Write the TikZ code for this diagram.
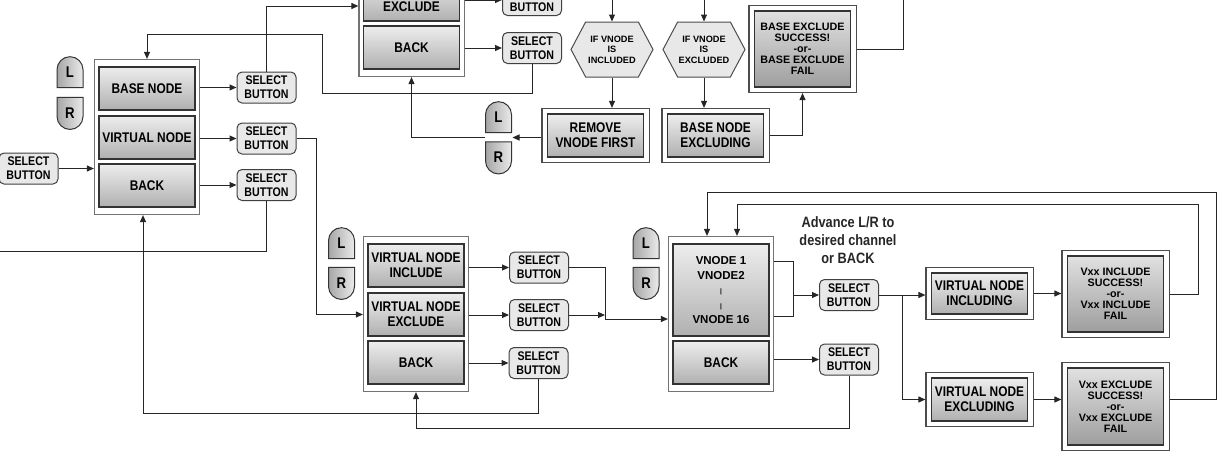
\documentclass[tikz,border=0pt]{standalone}
\usepackage{fontspec}
\setmainfont{Liberation Sans}
\newfontfamily\condfont[FakeStretch=0.85]{Liberation Sans}
\usepackage {tikz}
\usetikzlibrary {positioning}
\usetikzlibrary{shapes.misc}
\usetikzlibrary{shapes.symbols}
\usetikzlibrary{calc}
\usetikzlibrary{fit}
\usetikzlibrary{arrows.meta}
\newcommand{\mnufont}{\condfont\bfseries\fontsize{14}{15}\selectfont}
\newcommand{\btnfnt}{\condfont\bfseries\fontsize{12.5}{14}\selectfont}
\newcommand{\keyfnt}{\condfont\bfseries\fontsize{15.5}{16}\selectfont}
\newcommand{\resfnt}{\bfseries\fontsize{10.75}{11}\selectfont}
\newcommand{\lstfnt}{\bfseries\fontsize{11.5}{14.75}\selectfont}
\newcommand{\hexfnt}{\bfseries\fontsize{9.2}{10.5}\selectfont}
\newcommand{\advfnt}{\condfont\bfseries\fontsize{15}{18}\selectfont}
\newcommand{\tick}{{\fontsize{6.5}{6.5}\selectfont|}}
\tikzset{
    conn/.style = {draw=black!85, line width=1pt},
    arr/.style = {conn, -{Triangle[length=7pt,width=6pt]}},
    menubox/.style = {rectangle, draw=black!80, line width=1.1pt, top color=black!7, bottom color=black!31, minimum width=96pt, minimum height=43pt, inner sep=1pt, align=center, font=\mnufont},
    resbox/.style = {menubox, minimum height=76pt, font=\resfnt, top color=black!12, bottom color=black!38},
    menuframe/.style = {rectangle, draw=black!55, line width=1.1pt, inner xsep=4pt, inner ysep=7pt},
    dframe/.style = {rectangle, draw=black!70, line width=1.1pt, inner sep=5pt},
    selbtn/.style = {rectangle, rounded corners=5pt, draw=black!75, line width=1pt, fill=black!9, minimum width=59pt, minimum height=31pt, inner sep=0pt, align=center, font=\btnfnt},
    lkey/.style = {rounded rectangle, rounded rectangle west arc=none, rotate=90, draw=black!80, line width=1pt, left color=black!35, right color=black!8, minimum width=31pt, minimum height=26pt, inner sep=0pt, font=\keyfnt},
    rkey/.style = {lkey, rounded rectangle west arc=convex, rounded rectangle east arc=none, minimum width=32pt},
    hexa/.style = {signal, signal to=east and west, signal pointer angle=124, draw=black!70, line width=1pt, fill=black!9, minimum width=82pt, minimum height=55pt, inner sep=0pt, align=center, font=\hexfnt}}

\begin{document}
\begin{tikzpicture}[x=1pt, y=-1pt]
    \path[use as bounding box] (0,0) rectangle (1217,450);
    \clip (0,0) rectangle (1217,450);
    % main menu
    \node[menubox] (basenode) at (147,88.5) {BASE NODE};
    \node[menubox] (virtnode) at (147,137.5) {VIRTUAL NODE};
    \node[menubox] (mainback) at (147,185.5) {BACK};
    \node[menuframe, fit=(basenode)(mainback)] (mainframe) {};
    \node[lkey] (lkeyA) at (70,72.5) {\rotatebox{-90}{L}};
    \node[rkey] (rkeyA) at (70,113) {\rotatebox{-90}{R}};
    \node[selbtn] (selIn) at (28.5,168.5) {SELECT\\BUTTON};
    \node[selbtn] (selA1) at (266.5,87.5) {SELECT\\BUTTON};
    \node[selbtn] (selA2) at (266.5,138.5) {SELECT\\BUTTON};
    \node[selbtn] (selA3) at (266.5,185) {SELECT\\BUTTON};
    % base node menu (top)
    \node[menubox] (topexcl) at (411.5,-0.5) {\phantom{X}\\EXCLUDE};
    \node[menubox] (topback) at (411.5,47.5) {BACK};
    \node[menuframe, fit=(topexcl)(topback)] (topframe) {};
    \node[selbtn] (selT1) at (532,0) {\phantom{X}\\BUTTON};
    \node[selbtn] (selT2) at (532,48) {SELECT\\BUTTON};
    \node[lkey] (lkeyD) at (498.5,117.5) {\rotatebox{-90}{L}};
    \node[rkey] (rkeyD) at (498.5,157.5) {\rotatebox{-90}{R}};
    \coordinate (gapD) at ($(lkeyD)!0.5!(rkeyD)$);
    \node[hexa] (hexA) at (612,49.5) {IF VNODE\\IS\\INCLUDED};
    \node[hexa] (hexB) at (704,49.5) {IF VNODE\\IS\\EXCLUDED};
    \node[menubox] (remove) at (595.5,135.5) {REMOVE\\VNODE FIRST};
    \node[dframe, fit=(remove)] (removeframe) {};
    \node[menubox] (baseexcl) at (715.5,135.5) {BASE NODE\\EXCLUDING};
    \node[dframe, fit=(baseexcl)] (baseexclframe) {};
    \node[resbox] (excres) at (802.5,49) {BASE EXCLUDE\\SUCCESS!\\-or-\\BASE EXCLUDE\\FAIL};
    \node[dframe, fit=(excres)] (excresframe) {};
    % virtual node menu
    \node[menubox] (vnincl) at (416,265.5) {VIRTUAL NODE\\INCLUDE};
    \node[menubox] (vnexcl) at (416,314.5) {VIRTUAL NODE\\EXCLUDE};
    \node[menubox] (vnback) at (416,362.5) {BACK};
    \node[menuframe, fit=(vnincl)(vnback)] (vnframe) {};
    \node[lkey] (lkeyB) at (341.5,243.5) {\rotatebox{-90}{L}};
    \node[rkey] (rkeyB) at (341.5,283) {\rotatebox{-90}{R}};
    \node[selbtn] (selB1) at (539,267.5) {SELECT\\BUTTON};
    \node[selbtn] (selB2) at (539,315) {SELECT\\BUTTON};
    \node[selbtn] (selB3) at (538.5,363) {SELECT\\BUTTON};
    % vnode list
    \node[menubox, minimum height=92pt, font=\lstfnt] (vlist) at (721,290) {VNODE 1\\VNODE2\\\tick\\\tick\\VNODE 16};
    \node[menubox] (vback) at (721,362.5) {BACK};
    \node[menuframe, fit=(vlist)(vback)] (vlframe) {};
    \node[lkey] (lkeyC) at (646,243.5) {\rotatebox{-90}{L}};
    \node[rkey] (rkeyC) at (646,283) {\rotatebox{-90}{R}};
    \node[selbtn] (selC1) at (849,295) {SELECT\\BUTTON};
    \node[selbtn] (selC2) at (849,359.5) {SELECT\\BUTTON};
    \node[font=\advfnt, text=black!85, align=center] (advance) at (848,240) {Advance L/R to\\desired channel\\or BACK};
    \node[menubox, minimum height=41pt] (vincing) at (979.5,293.5) {VIRTUAL NODE\\INCLUDING};
    \node[dframe, fit=(vincing)] (vincframe) {};
    \node[menubox, minimum height=43pt] (vexcing) at (979.5,399.5) {VIRTUAL NODE\\EXCLUDING};
    \node[dframe, fit=(vexcing)] (vexcframe) {};
    \node[resbox] (vincres) at (1115.5,294) {Vxx INCLUDE\\SUCCESS!\\-or-\\Vxx INCLUDE\\FAIL};
    \node[dframe, fit=(vincres)] (vincresframe) {};
    \node[resbox, minimum height=77pt] (vexcres) at (1115.5,406.5) {Vxx EXCLUDE\\SUCCESS!\\-or-\\Vxx EXCLUDE\\FAIL};
    \node[dframe, fit=(vexcres)] (vexcresframe) {};
    % connectors
    \draw[arr] (selIn.east) -- (selIn.east -| mainframe.west);
    \draw[arr] (mainframe.east |- selA1) -- (selA1.west);
    \draw[arr] (mainframe.east |- selA2) -- (selA2.west);
    \draw[arr] (mainframe.east |- selA3) -- (selA3.west);
    \draw[arr] (selA1.north) |- ([yshift=17.5pt]topframe.west);
    \draw[conn] (selA3.south) -- ++(0,50) -- ++(-280,0);
    \draw[arr] (topframe.east |- selT1) -- (selT1.west);
    \draw[arr] (topframe.east |- selT2) -- (selT2.west);
    \draw[arr] (selT2.south) -- ++(0,29) -| ++(-210,-59) -| (mainframe.north);
    \draw[arr] ([yshift=30pt]hexA.north) -- (hexA.north);
    \draw[arr] ([yshift=30pt]hexB.north) -- (hexB.north);
    \draw[arr] (hexA.south) -- (hexA.south |- removeframe.north);
    \draw[arr] (hexB.south) -- (hexB.south |- baseexclframe.north);
    \draw[arr] (removeframe.west |- gapD) -- ([xshift=14pt]gapD);
    \draw[arr] ([xshift=-14pt]gapD) -| (topframe.south);
    \draw[arr] (baseexclframe.east) -| (excresframe.south);
    \draw[conn] (excresframe.east) -- ++(47,0) -- ++(0,-60);
    \draw[arr] (selA2.east) -- ++(19.5,0) |- (vnframe.west |- vnexcl);
    \draw[arr] (vnframe.east |- selB1) -- (selB1.west);
    \draw[arr] (vnframe.east |- selB2) -- (selB2.west);
    \draw[arr] (vnframe.east |- selB3) -- (selB3.west);
    \coordinate (mergeB) at (605,319);
    \draw[arr] (selB1.east) -| (mergeB) -- (mergeB -| vlframe.west);
    \draw[arr] (selB2.east) -- (selB2.east -| mergeB);
    \draw[arr] (selB3.south) -- ++(0,34.5) -| ([xshift=-4pt]mainframe.south);
    \draw[conn] ($(vlframe.east |- vlist.east)+(0,-29)$) -| ([xshift=-26pt]selC1.west) |- ($(vlframe.east |- vlist.east)+(0,26)$);
    \draw[arr] ([xshift=-26pt]selC1.west) -- (selC1.west);
    \draw[arr] (vlframe.east |- selC2) -- (selC2.west);
    \draw[arr] (selC2.south) -- ++(0,53) -| (vnframe.south);
    \draw[arr] (selC1.east) -- (selC1.east -| vincframe.west);
    \draw[arr] ([xshift=23pt]selC1.east) |- (vexcframe.west);
    \draw[arr] (vincframe.east) -- (vincframe.east -| vincresframe.west);
    \draw[arr] (vexcframe.east) -- (vexcframe.east -| vexcresframe.west);
    \draw[arr] (vincresframe.east) -| ++(29,-90) -| ([xshift=16pt]vlframe.north);
    \draw[arr] (vexcresframe.east |- vexcframe) -| ++(47,-207) -| ([xshift=-14pt]vlframe.north);
\end{tikzpicture}
\end{document}
